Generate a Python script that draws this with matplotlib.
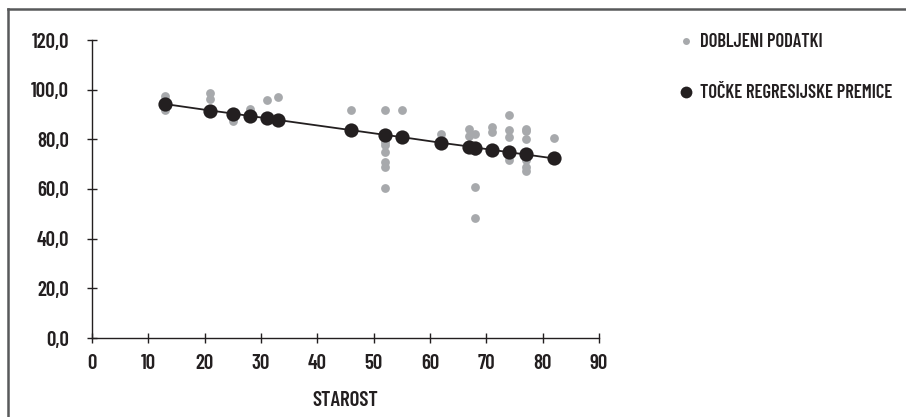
import matplotlib
matplotlib.use("Agg")
import matplotlib.pyplot as plt
from matplotlib.lines import Line2D
from matplotlib import font_manager as fm

# observed data (gray)
obs_x = [13, 13, 21, 21, 25, 28, 31, 33,
         46, 46, 52, 52, 52, 52, 52, 52, 52, 55,
         62, 67, 67, 68, 68, 68, 68,
         71, 71, 74, 74, 74, 74, 77, 77, 77, 77, 77, 77, 82]
obs_y = [97.5, 91.8, 98.8, 96.3, 87.5, 92.2, 95.8, 97.2,
         91.8, 83.0, 91.8, 79.0, 77.7, 75.0, 71.0, 69.0, 60.3, 91.8,
         82.0, 84.0, 81.5, 82.0, 75.5, 61.0, 48.5,
         85.0, 82.8, 89.7, 83.7, 80.8, 71.5, 84.2, 83.5, 80.0, 71.5, 69.0, 67.3, 80.7]

# regression line points (black)
reg_x = [13, 21, 25, 28, 31, 33, 46, 52, 55, 62, 67, 68, 71, 74, 77, 82]
reg_y = [94.2, 91.6, 90.4, 89.4, 88.5, 87.8, 83.7, 81.8, 80.9, 78.6, 77.1, 76.7, 75.8, 74.8, 73.9, 72.3]

x_ticks = [0, 10, 20, 30, 40, 50, 60, 70, 80, 90]
y_ticks = [0, 20, 40, 60, 80, 100, 120]
y_labels = ["0,0", "20,0", "40,0", "60,0", "80,0", "100,0", "120,0"]

# pick a tall, condensed font
files = {}
for f in fm.fontManager.ttflist:
    files.setdefault(f.fname.split('/')[-1].lower(), f.fname)
prefs = ['barlowcondensed-semibold', 'barlowcondensed-medium',
         'encodesanscondensed-semibold', 'encodesanscondensed-medium',
         'robotocondensed-bold', 'robotocondensed-medium',
         'liberationsansnarrow-bold', 'dejavusanscondensed-bold']
chosen = None
for p in prefs:
    for k, v in files.items():
        if k.startswith(p + '.'):
            chosen = v
            break
    if chosen:
        break


def FP(size):
    if chosen:
        return fm.FontProperties(fname=chosen, size=size)
    return fm.FontProperties(family='DejaVu Sans', size=size, stretch='condensed')


W, H = 906, 417
fig = plt.figure(figsize=(W / 100, H / 100), dpi=100)
ax = fig.add_axes([92 / W, 1 - 338 / H, (599 - 92) / W, (338 - 40) / H])

gray = '#a7a9ac'
dark = '#231f20'
ax.scatter(obs_x, obs_y, s=40, color=gray, zorder=2, linewidths=0)
ax.plot(reg_x, reg_y, color=dark, lw=1.3, zorder=3)
ax.scatter(reg_x, reg_y, s=105, color=dark, zorder=4, linewidths=0)

ax.set_xlim(0, 90)
ax.set_ylim(0, 120)
ax.set_xticks(x_ticks)
ax.set_yticks(y_ticks)
ax.set_yticklabels(y_labels)
for s in ['top', 'right']:
    ax.spines[s].set_visible(False)
for s in ['left', 'bottom']:
    ax.spines[s].set_color(dark)
    ax.spines[s].set_linewidth(1.0)
ax.tick_params(direction='inout', length=7, width=1.0, color=dark,
               labelcolor=dark)
ax.tick_params(axis='y', pad=13)
ax.tick_params(axis='x', pad=8)
for lab in ax.get_xticklabels() + ax.get_yticklabels():
    lab.set_fontproperties(FP(15))
ax.set_xlabel('STAROST', color=dark, labelpad=13, fontproperties=FP(15))

handles = [
    Line2D([], [], ls='none', marker='o', markersize=5, color=gray, markeredgewidth=0),
    Line2D([], [], ls='none', marker='o', markersize=8.5, color=dark, markeredgewidth=0),
]
leg = fig.legend(handles, ['DOBLJENI PODATKI', 'TOČKE REGRESIJSKE PREMICE'],
                 loc='upper left', bbox_to_anchor=(665 / W, 1 - 24 / H),
                 frameon=False, prop=FP(13.3), labelspacing=1.8,
                 handletextpad=0.1, handlelength=1.3, borderpad=0)
for t in leg.get_texts():
    t.set_color(dark)

# figure frame (left and top)
fc = '#58595b'
fig.add_artist(Line2D([8 / W, 8 / W], [0, 1 - 9 / H], color=fc, lw=1.8,
                      transform=fig.transFigure))
fig.add_artist(Line2D([8 / W, 1], [1 - 9 / H, 1 - 9 / H], color=fc, lw=1.8,
                      transform=fig.transFigure))

fig.savefig('out.png', dpi=100)
